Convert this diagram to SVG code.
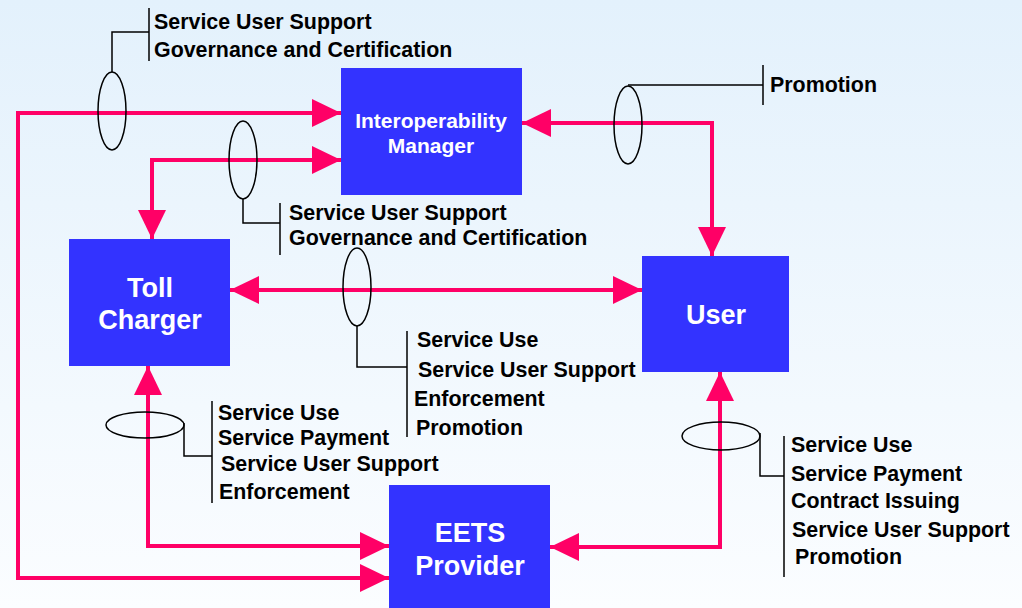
<svg xmlns="http://www.w3.org/2000/svg" width="1022" height="608" viewBox="0 0 1022 608">
<defs>
<linearGradient id="bg" x1="0" y1="0" x2="0" y2="1">
<stop offset="0" stop-color="#e3f1fc"/>
<stop offset="1" stop-color="#fbfdff"/>
</linearGradient>
<marker id="ah" markerUnits="userSpaceOnUse" markerWidth="29" markerHeight="28" refX="29" refY="14" orient="auto-start-reverse">
<path d="M0,0 L29,14 L0,28 Z" fill="#ff0066"/>
</marker>
<style>
.node rect{fill:#3333ff}
.nt{fill:#ffffff;font-family:"Liberation Sans",Arial,sans-serif;font-weight:bold;text-anchor:middle}
.lbl{fill:#000000;font-family:"Liberation Sans",Arial,sans-serif;font-weight:bold;font-size:21.4px}
.conn{fill:none;stroke:#ff0066;stroke-width:4;marker-start:url(#ah);marker-end:url(#ah)}
.ell{fill:none;stroke:#000000;stroke-width:1.5}
.lead{fill:none;stroke:#000000;stroke-width:1.5}
</style>
</defs>
<rect x="0" y="0" width="1022" height="608" fill="url(#bg)"/>

<g id="connectors">
<path class="conn" d="M341,113 H18 V578 H389"/>
<path class="conn" d="M341,160 H152 V239"/>
<path class="conn" d="M522,123 H712 V256"/>
<path class="conn" d="M230,290 H642"/>
<path class="conn" d="M148,366 V546 H389"/>
<path class="conn" d="M720,372 V547 H550"/>
</g>

<g id="node-im" class="node">
<rect x="341" y="68" width="181" height="127"/>
<text class="nt" x="431" y="128" font-size="21">Interoperability</text>
<text class="nt" x="431" y="153" font-size="21">Manager</text>
</g>
<g id="node-toll" class="node">
<rect x="69" y="239" width="161" height="127"/>
<text class="nt" x="150" y="297" font-size="27">Toll</text>
<text class="nt" x="150" y="329" font-size="27">Charger</text>
</g>
<g id="node-user" class="node">
<rect x="642" y="256" width="147" height="116"/>
<text class="nt" x="716" y="324" font-size="27">User</text>
</g>
<g id="node-eets" class="node">
<rect x="389" y="485" width="161" height="123"/>
<text class="nt" x="470" y="542" font-size="27">EETS</text>
<text class="nt" x="470" y="575" font-size="27">Provider</text>
</g>

<g id="label-a">
<ellipse class="ell" cx="112" cy="111" rx="14" ry="39"/>
<path class="lead" d="M112,72 V32 H149 M149,8 V61"/>
<text class="lbl" x="154" y="29">Service User Support</text>
<text class="lbl" x="154" y="57">Governance and Certification</text>
</g>
<g id="label-b">
<ellipse class="ell" cx="243" cy="160" rx="14" ry="39"/>
<path class="lead" d="M243,199 V223 H280 M280,203 V255"/>
<text class="lbl" x="289" y="220">Service User Support</text>
<text class="lbl" x="289" y="245">Governance and Certification</text>
</g>
<g id="label-c">
<ellipse class="ell" cx="628" cy="125" rx="14" ry="39"/>
<path class="lead" d="M628,85 H763 M763,65 V105"/>
<text class="lbl" x="770" y="92">Promotion</text>
</g>
<g id="label-d">
<ellipse class="ell" cx="357" cy="287" rx="14" ry="39"/>
<path class="lead" d="M357,326 V367 H407 M407,331 V437"/>
<text class="lbl" x="417" y="347">Service Use</text>
<text class="lbl" x="418" y="377">Service User Support</text>
<text class="lbl" x="414" y="406">Enforcement</text>
<text class="lbl" x="416" y="435">Promotion</text>
</g>
<g id="label-e">
<ellipse class="ell" cx="145" cy="425" rx="39" ry="13"/>
<path class="lead" d="M184,423 V456 H212 M212,401 V503"/>
<text class="lbl" x="218" y="420">Service Use</text>
<text class="lbl" x="218" y="445">Service Payment</text>
<text class="lbl" x="221" y="471">Service User Support</text>
<text class="lbl" x="219" y="499">Enforcement</text>
</g>
<g id="label-f">
<ellipse class="ell" cx="721" cy="436" rx="39" ry="14"/>
<path class="lead" d="M760,433 V476 H784 M784,436 V577"/>
<text class="lbl" x="791" y="452">Service Use</text>
<text class="lbl" x="791" y="481">Service Payment</text>
<text class="lbl" x="791" y="508">Contract Issuing</text>
<text class="lbl" x="792" y="537">Service User Support</text>
<text class="lbl" x="795" y="564">Promotion</text>
</g>
</svg>
